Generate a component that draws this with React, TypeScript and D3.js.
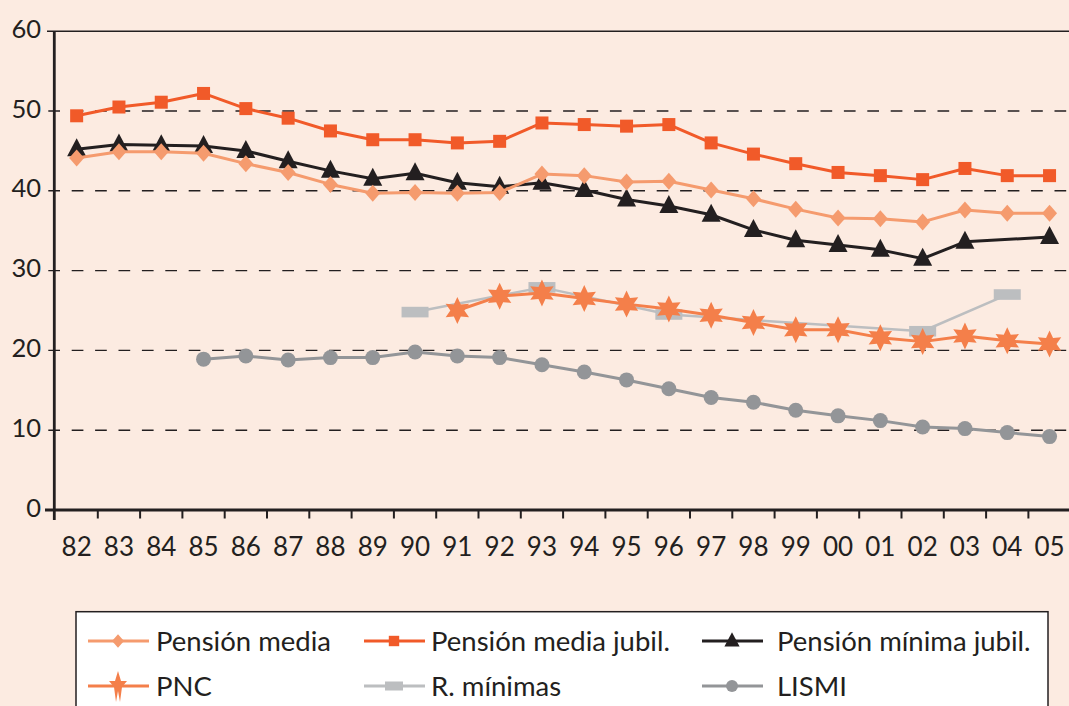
import React from "react";
import * as d3 from "d3";

const years = ["82","83","84","85","86","87","88","89","90","91","92","93","94","95","96","97","98","99","00","01","02","03","04","05"];
const yTicks = [0, 10, 20, 30, 40, 50, 60];

const pensionMedia = [44.1,44.9,44.9,44.7,43.4,42.3,40.8,39.7,39.8,39.7,39.8,42.1,41.9,41.1,41.2,40.1,39.0,37.7,36.6,36.5,36.1,37.6,37.2,37.2];
const pensionMediaJubil = [49.4,50.5,51.1,52.2,50.3,49.1,47.5,46.4,46.4,46.0,46.2,48.5,48.3,48.1,48.3,46.0,44.6,43.4,42.3,41.9,41.4,42.8,41.9,41.9];
const pensionMinimaJubil = [45.2,45.8,45.7,45.6,45.0,43.7,42.5,41.5,42.2,41.0,40.5,41.0,40.1,38.9,38.1,37.0,35.1,33.8,33.2,32.6,31.5,33.6,null,34.2];
const pnc = [null,null,null,null,null,null,null,null,null,25.0,26.8,27.2,26.5,25.8,25.2,24.4,23.5,22.6,22.6,21.6,21.1,21.8,21.2,20.8];
const rMinimas = [null,null,null,null,null,null,null,null,24.8,null,null,27.9,null,null,24.5,null,null,null,null,null,22.4,null,27.0,null];
const lismi = [null,null,null,18.9,19.3,18.8,19.1,19.1,19.8,19.3,19.1,18.2,17.3,16.3,15.2,14.1,13.5,12.5,11.8,11.2,10.4,10.2,9.7,9.2];

const BG = "#fcebe1";
const C_MEDIA = "#f59b6e";
const C_MJUB = "#f15a29";
const C_MIN = "#231f20";
const C_PNC = "#f47f4a";
const C_RMIN = "#bcbec0";
const C_LISMI = "#939598";
const FONT = "Lato, 'Open Sans', sans-serif";

function starPath(R: number, r: number, n = 6, ry = 1): string {
  const pts: string[] = [];
  for (let i = 0; i < n * 2; i++) {
    const a = -Math.PI / 2 + (i * Math.PI) / n;
    const rad = i % 2 === 0 ? R : r;
    pts.push(`${(rad * Math.cos(a)).toFixed(2)},${(rad * Math.sin(a) * ry).toFixed(2)}`);
  }
  return "M" + pts.join("L") + "Z";
}

function legendStar(): string {
  // elongated vertical star as in the legend
  const pts: [number, number][] = [
    [0, -15], [3, -5], [9, -5], [4, 1], [2, 16], [0, 5], [-2, 16], [-4, 1], [-9, -5], [-3, -5],
  ];
  return "M" + pts.map((p) => p.join(",")).join("L") + "Z";
}

type Kind = "diamond" | "square" | "triangle" | "star" | "rect" | "circle";

function Marker({ kind, cx, cy, color, s = 1 }: { kind: Kind; cx: number; cy: number; color: string; s?: number }) {
  const t = `translate(${cx},${cy}) scale(${s})`;
  switch (kind) {
    case "diamond":
      return <path transform={t} d="M0,-8.5L7.5,0L0,8.5L-7.5,0Z" fill={color} />;
    case "square":
      return <rect transform={t} x={-6.5} y={-6.5} width={13} height={13} fill={color} />;
    case "triangle":
      return <path transform={t} d="M0,-11L9.5,7L-9.5,7Z" fill={color} />;
    case "star":
      return <path transform={t} d={starPath(13.5, 7)} fill={color} />;
    case "rect":
      return <rect transform={t} x={-13.5} y={-5.3} width={27} height={10.6} fill={color} />;
    case "circle":
      return <circle transform={t} r={7.5} fill={color} />;
  }
}

const series: { name: string; values: (number | null)[]; color: string; kind: Kind; width: number }[] = [
  { name: "Pensión mínima jubil.", values: pensionMinimaJubil, color: C_MIN, kind: "triangle", width: 3 },
  { name: "Pensión media jubil.", values: pensionMediaJubil, color: C_MJUB, kind: "square", width: 3 },
  { name: "Pensión media", values: pensionMedia, color: C_MEDIA, kind: "diamond", width: 3 },
  { name: "R. mínimas", values: rMinimas, color: C_RMIN, kind: "rect", width: 2.5 },
  { name: "PNC", values: pnc, color: C_PNC, kind: "star", width: 3 },
  { name: "LISMI", values: lismi, color: C_LISMI, kind: "circle", width: 3 },
];

const legendItems: { name: string; color: string; kind: Kind; col: number; row: number }[] = [
  { name: "Pensión media", color: C_MEDIA, kind: "diamond", col: 0, row: 0 },
  { name: "Pensión media jubil.", color: C_MJUB, kind: "square", col: 1, row: 0 },
  { name: "Pensión mínima jubil.", color: C_MIN, kind: "triangle", col: 2, row: 0 },
  { name: "PNC", color: C_PNC, kind: "star", col: 0, row: 1 },
  { name: "R. mínimas", color: C_RMIN, kind: "rect", col: 1, row: 1 },
  { name: "LISMI", color: C_LISMI, kind: "circle", col: 2, row: 1 },
];

export default function App() {
  const W = 1069, H = 706;
  const x = d3.scaleBand<string>().domain(years).range([55.5, 55.5 + 24 * 42.3]);
  const y = d3.scaleLinear().domain([0, 60]).range([510, 31.2]);
  const cx = (yr: string) => (x(yr) as number) + x.bandwidth() / 2;

  const colX = [88, 364, 702];
  const colText = [156, 431, 777];
  const rowY = [641, 686];

  return (
    <svg width={W} height={H} style={{ position: "absolute", left: 0, top: 0, background: BG }} fontFamily={FONT}>
      <rect x={0} y={0} width={W} height={H} fill={BG} />
      {/* grid */}
      {yTicks.filter((t) => t > 0 && t < 60).map((t) => (
        <line key={t} x1={48.3} x2={W} y1={y(t)} y2={y(t)} stroke="#231f20" strokeWidth={1.4} strokeDasharray="11.7,11.7" />
      ))}
      <line x1={47} x2={W} y1={y(60)} y2={y(60)} stroke="#231f20" strokeWidth={1.6} />
      {/* y labels */}
      {yTicks.map((t) => (
        <text key={t} x={41} y={y(t) + 6.5} textAnchor="end" fontSize={25.5} fill="#231f20">{t}</text>
      ))}
      {/* x ticks */}
      {years.slice(1).map((yr) => (
        <line key={yr} x1={x(yr) as number} x2={x(yr) as number} y1={510} y2={518.5} stroke="#231f20" strokeWidth={2} />
      ))}
      {years.map((yr) => (
        <text key={yr} x={cx(yr)} y={556} textAnchor="middle" fontSize={26} fill="#231f20">{yr}</text>
      ))}
      {/* axes */}
      <line x1={54.3} x2={54.3} y1={31.2} y2={520} stroke="#231f20" strokeWidth={2.8} />
      <line x1={45} x2={W} y1={510} y2={510} stroke="#231f20" strokeWidth={2.8} />
      {/* series */}
      {series.map((s) => {
        const pts = years.map((yr, i) => ({ yr, v: s.values[i] })).filter((p) => p.v !== null) as { yr: string; v: number }[];
        const line = d3.line<{ yr: string; v: number }>().x((p) => cx(p.yr)).y((p) => y(p.v));
        return (
          <g key={s.name}>
            <path d={line(pts) || ""} fill="none" stroke={s.color} strokeWidth={s.width} strokeLinejoin="round" />
            {pts.map((p) => (
              <Marker key={p.yr} kind={s.kind} cx={cx(p.yr)} cy={y(p.v)} color={s.color} />
            ))}
          </g>
        );
      })}
      {/* legend */}
      <rect x={76} y={611.7} width={972} height={120} fill="#ffffff" stroke="#231f20" strokeWidth={1.5} />
      {legendItems.map((it) => {
        const lx = colX[it.col];
        const ly = rowY[it.row];
        return (
          <g key={it.name}>
            <line x1={lx} x2={lx + 61} y1={ly} y2={ly} stroke={it.color} strokeWidth={3} />
            {it.kind === "star" ? (
              <path transform={`translate(${lx + 30},${ly})`} d={legendStar()} fill={it.color} />
            ) : it.kind === "rect" ? (
              <rect x={lx + 30 - 9} y={ly - 4.5} width={18} height={9} fill={it.color} />
            ) : (
              <Marker kind={it.kind} cx={lx + 30} cy={ly} color={it.color} s={0.8} />
            )}
            <text x={colText[it.col]} y={ly + 9.5} fontSize={27.5} fill="#231f20">{it.name}</text>
          </g>
        );
      })}
    </svg>
  );
}
